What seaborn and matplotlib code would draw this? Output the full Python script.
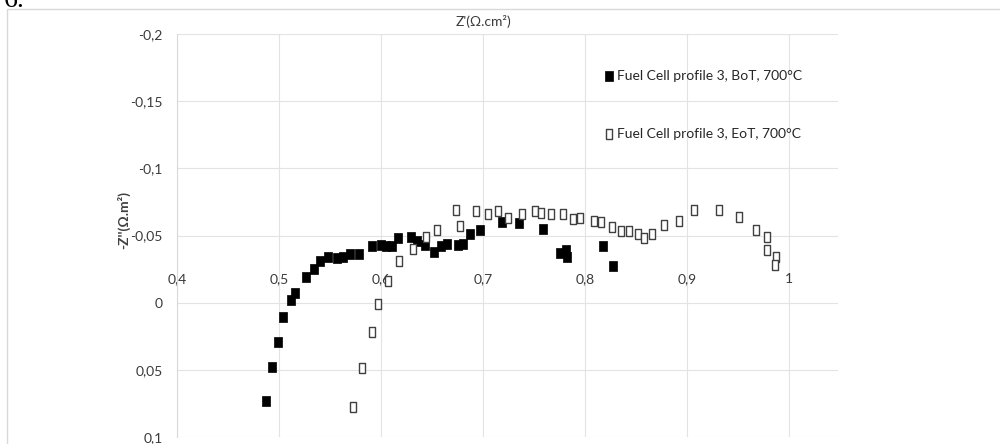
import matplotlib
matplotlib.use("Agg")
import matplotlib.pyplot as plt
import matplotlib.ticker as mticker
from matplotlib.patches import Rectangle
import seaborn as sns
import pandas as pd

# ---- data ----
bot_x = [0.487, 0.493, 0.499, 0.504, 0.512, 0.516, 0.526, 0.534, 0.540, 0.548,
         0.557, 0.563, 0.570, 0.578, 0.591, 0.600, 0.605, 0.611, 0.617, 0.629,
         0.635, 0.643, 0.652, 0.659, 0.665, 0.675, 0.680, 0.687, 0.697, 0.719,
         0.735, 0.759, 0.775, 0.781, 0.782, 0.818, 0.827]
bot_y = [0.073, 0.048, 0.029, 0.011, -0.002, -0.007, -0.019, -0.025, -0.031, -0.034,
         -0.033, -0.034, -0.036, -0.036, -0.042, -0.043, -0.042, -0.042, -0.048, -0.049,
         -0.046, -0.043, -0.038, -0.042, -0.044, -0.043, -0.044, -0.051, -0.054, -0.060,
         -0.059, -0.055, -0.037, -0.039, -0.034, -0.042, -0.027]

eot_x = [0.573, 0.581, 0.591, 0.597, 0.607, 0.618, 0.631, 0.644, 0.655, 0.674,
         0.677, 0.693, 0.705, 0.715, 0.724, 0.738, 0.751, 0.757, 0.767, 0.778,
         0.788, 0.795, 0.809, 0.816, 0.826, 0.835, 0.843, 0.852, 0.858, 0.866,
         0.877, 0.892, 0.907, 0.931, 0.951, 0.968, 0.978, 0.978, 0.987, 0.986]
eot_y = [0.078, 0.049, 0.022, 0.001, -0.016, -0.031, -0.040, -0.049, -0.054, -0.069,
         -0.057, -0.068, -0.066, -0.068, -0.063, -0.066, -0.068, -0.067, -0.066, -0.066,
         -0.062, -0.063, -0.061, -0.060, -0.056, -0.053, -0.053, -0.051, -0.048, -0.051,
         -0.058, -0.061, -0.069, -0.069, -0.064, -0.054, -0.049, -0.039, -0.034, -0.028]

label_bot = "Fuel Cell profile 3, BoT, 700°C"
label_eot = "Fuel Cell profile 3, EoT, 700°C"
x_title = "Z'(Ω.cm²)"
y_title = "-Z''(Ω.m²)"
x_ticks = [0.4, 0.5, 0.6, 0.7, 0.8, 0.9, 1.0]
y_ticks = [-0.2, -0.15, -0.1, -0.05, 0.0, 0.05, 0.1]

# ---- style ----
sns.set_theme(style="white")
plt.rcParams['font.family'] = ['Lato', 'DejaVu Sans']

df_bot = pd.DataFrame({"x": bot_x, "y": bot_y})
df_eot = pd.DataFrame({"x": eot_x, "y": eot_y})

fig = plt.figure(figsize=(10, 4.44), dpi=100)
ax = fig.add_axes([0.177, 1 - 437 / 444, 0.661, (437 - 34) / 444])

rect = [(-0.35, -0.5), (0.35, -0.5), (0.35, 0.5), (-0.35, 0.5), (-0.35, -0.5)]

sns.scatterplot(data=df_bot, x="x", y="y", ax=ax, marker=rect, s=58,
                color="black", edgecolor="black", linewidth=0.5,
                label=label_bot, zorder=3)
sns.scatterplot(data=df_eot, x="x", y="y", ax=ax, marker=rect, s=42,
                facecolor="white", edgecolor="#404040", linewidth=1.0,
                label=label_eot, zorder=3)

ax.set_xlim(0.4, 1.048)
ax.set_ylim(0.1, -0.2)

ax.set_xticks(x_ticks)
ax.set_yticks(y_ticks)
ax.yaxis.set_minor_locator(mticker.MultipleLocator(0.01))

def comma_fmt(v, pos):
    s = f"{v:.2f}".rstrip('0').rstrip('.')
    if s in ("-0", "0"):
        s = "0"
    return s.replace('.', ',')

ax.xaxis.set_major_formatter(mticker.FuncFormatter(comma_fmt))
ax.yaxis.set_major_formatter(mticker.FuncFormatter(comma_fmt))

for sp in ["top", "right"]:
    ax.spines[sp].set_visible(False)
ax.spines["bottom"].set_position(("data", -0.025))
ax.spines["bottom"].set_visible(False)
ax.spines["left"].set_color("#d9d9d9")
ax.spines["left"].set_linewidth(0.8)

ax.grid(True, which="major", color="#e3e3e3", linewidth=0.8)
ax.set_axisbelow(True)

ax.tick_params(axis="x", which="major", length=0, pad=3, labelsize=10, labelcolor="#3a3a3a")
ax.tick_params(axis="y", which="both", direction="inout", length=5, color="#c8c8c8",
               width=0.8, pad=8, labelsize=10, labelcolor="#3a3a3a")

ax.set_xlabel("")
ax.set_ylabel(y_title, fontsize=10, fontweight="bold", color="#404040")
ax.yaxis.set_label_coords((130 - 177) / 661, (437 - 220) / 403)

ax.text((484 - 177) / 661, 1.03, x_title, transform=ax.transAxes,
        ha="center", va="center", fontsize=10, color="#3a3a3a")

leg = ax.legend(loc="upper left", bbox_to_anchor=(602 / 1000, 1 - 70 / 444),
                bbox_transform=fig.transFigure, frameon=False, fontsize=10,
                labelspacing=3.3, handletextpad=0.1, handlelength=1.0,
                borderaxespad=0, borderpad=0)
for t in leg.get_texts():
    t.set_color("#262626")

# chart frame and clipped panel label
fig.patches.append(Rectangle((0.007, -0.1), 1.2, 1.1 - 9 / 444, transform=fig.transFigure,
                             fill=False, edgecolor="#d9d9d9", linewidth=1.0))
fig.text(0.004, 0.998, "6.", fontsize=20, family=['Liberation Serif', 'DejaVu Serif'],
         ha="left", va="center", color="black")

fig.savefig("out.png", dpi=100)
